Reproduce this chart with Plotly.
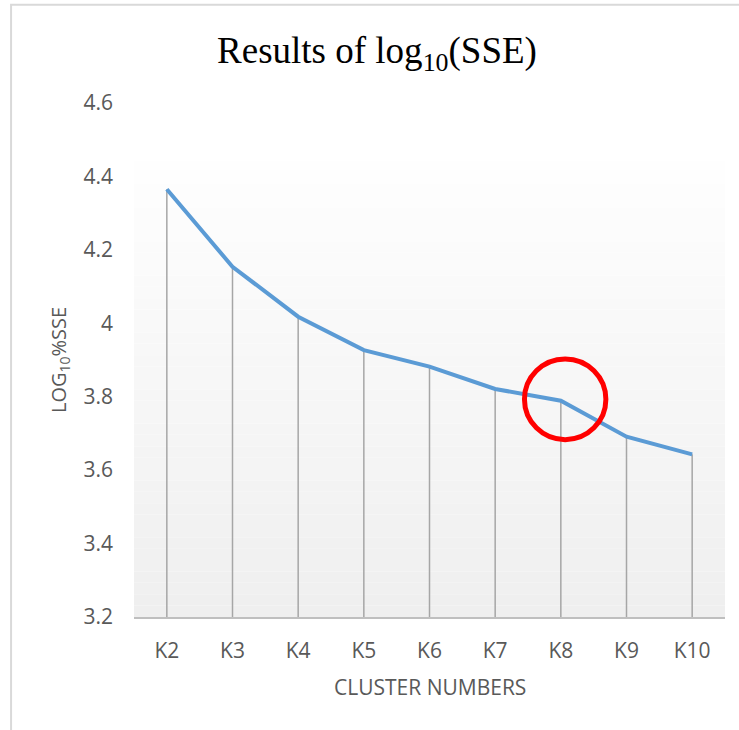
import plotly.graph_objects as go

# data
clusters = ["K2", "K3", "K4", "K5", "K6", "K7", "K8", "K9", "K10"]
log_sse = [4.365, 4.154, 4.018, 3.927, 3.882, 3.821, 3.789, 3.691, 3.643]
y_ticks = [3.2, 3.4, 3.6, 3.8, 4.0, 4.2, 4.4, 4.6]
y_tick_labels = ["3.2", "3.4", "3.6", "3.8", "4", "4.2", "4.4", "4.6"]
highlight = "K8"

Y_MIN, Y_MAX = 3.2, 4.6
W, H = 739, 730
L, R, T, B = 134, 14, 103, 113
TXT = "#595959"
FONT = "Open Sans"

fig = go.Figure()

# drop lines from each point down to the category axis
dx, dy = [], []
for i, v in enumerate(log_sse):
    dx += [i, i, None]
    dy += [Y_MIN, v, None]
fig.add_trace(go.Scatter(x=dx, y=dy, mode="lines", showlegend=False,
                         line=dict(color="#a6a6a6", width=1.5), hoverinfo="skip"))

fig.add_trace(go.Scatter(
    x=list(range(len(clusters))), y=log_sse, mode="lines", showlegend=False,
    line=dict(color="#5b9bd5", width=4),
    text=clusters, hovertemplate="%{text}<br>%{y}<extra></extra>",
))

shapes = []
# plot-area background, a soft vertical gradient faked with thin bands
n_bands, bg_top = 40, 0.886
for k in range(n_bands):
    t = k / (n_bands - 1)
    c = round(0xef + (0xfe - 0xef) * t)
    shapes.append(dict(type="rect", xref="paper", yref="paper", layer="below",
                       x0=0, x1=1, y0=bg_top * k / n_bands, y1=bg_top * (k + 1) / n_bands,
                       line=dict(width=0), fillcolor=f"rgb({c},{c},{c})"))

# outer chart frame (cut off by the picture on the right and bottom)
shapes.append(dict(type="rect", xref="paper", yref="paper", layer="below",
                   x0=-0.208, x1=1.05, y0=-0.25, y1=1.191,
                   line=dict(color="#d9d9d9", width=2)))

# red ring around the elbow point
hi = clusters.index(highlight)
cx, cy = hi + 0.066, log_sse[hi] + 0.004
rx, ry = 0.62, 0.11
shapes.append(dict(type="circle", xref="x", yref="y", x0=cx - rx, x1=cx + rx,
                   y0=cy - ry, y1=cy + ry, line=dict(color="#ff0000", width=5)))

annotations = [
    dict(text="LOG<sub>10</sub>%SSE", xref="paper", yref="paper", x=(59 - L) / (W - L - R),
         y=0.5, textangle=-90, showarrow=False, xanchor="center", yanchor="middle",
         font=dict(family=FONT, size=20, color=TXT)),
    dict(text="CLUSTER NUMBERS", xref="paper", yref="paper", x=0.5,
         y=-(687 - (H - B)) / (H - T - B), showarrow=False, xanchor="center", yanchor="middle",
         font=dict(family=FONT, size=21, color=TXT)),
]

fig.update_layout(
    width=W, height=H, margin=dict(l=L, r=R, t=T, b=B),
    paper_bgcolor="white", plot_bgcolor="white",
    title=dict(text="Results of log<sub>10</sub>(SSE)", x=377 / W, xanchor="center",
               y=1 - 50 / H, yanchor="middle",
               font=dict(family="Liberation Serif", size=37, color="black")),
    xaxis=dict(tickmode="array", tickvals=list(range(len(clusters))), ticktext=clusters,
               range=[-0.5, len(clusters) - 0.5], showgrid=False, zeroline=False,
               showline=True, linecolor="#bfbfbf", linewidth=2, ticks="",
               ticklabelstandoff=14, tickfont=dict(family=FONT, size=21, color=TXT)),
    yaxis=dict(range=[Y_MIN, Y_MAX], tickmode="array", tickvals=y_ticks, ticktext=y_tick_labels,
               showgrid=False, zeroline=False, showline=False, ticks="",
               ticklabelstandoff=20, tickfont=dict(family=FONT, size=21, color=TXT)),
    shapes=shapes, annotations=annotations,
)

# drop the browser's default body margin so the figure sits at the page origin
fig.write_html("out.html", config={"displayModeBar": False},
               post_script="document.body.style.margin='0';")
